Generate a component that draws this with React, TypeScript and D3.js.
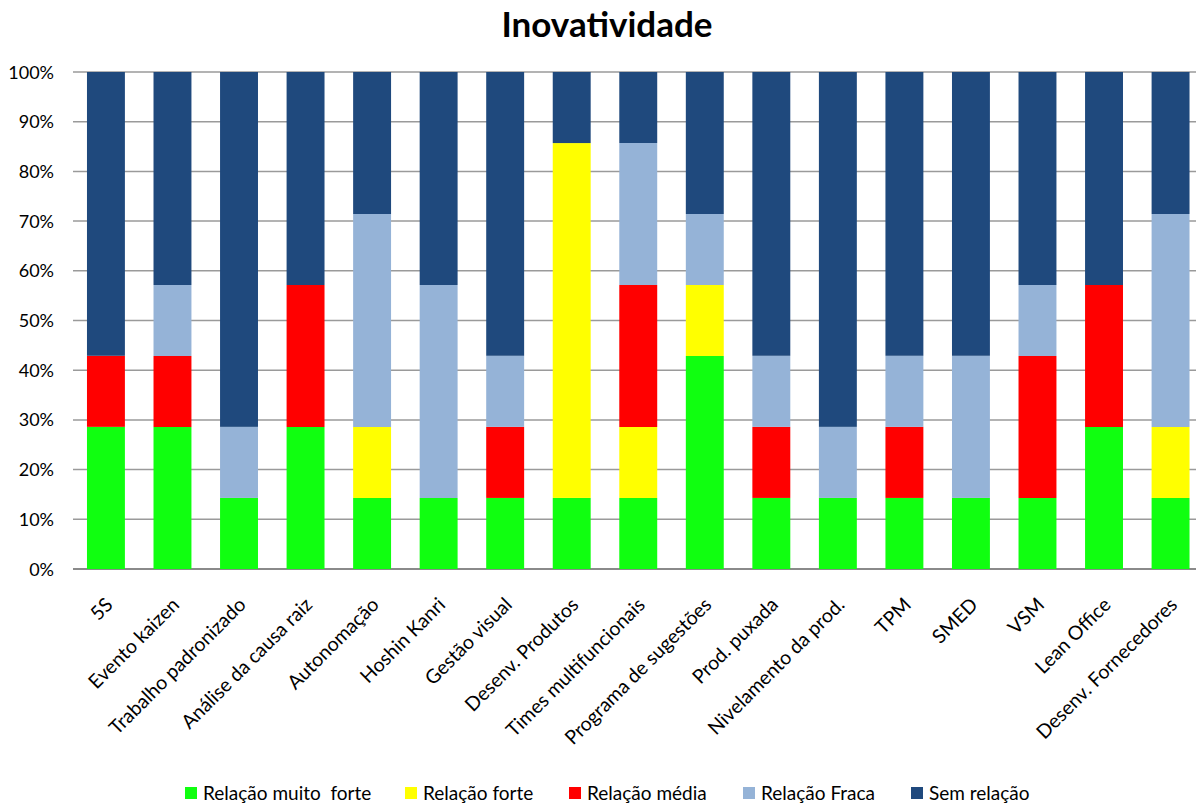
import React from "react";
import * as d3 from "d3";

// Share of each relationship level per lean practice (percent of 7 assessments)
const categories = [
  "5S",
  "Evento kaizen",
  "Trabalho padronizado",
  "Análise da causa raiz",
  "Autonomação",
  "Hoshin Kanri",
  "Gestão visual",
  "Desenv. Produtos",
  "Times multifuncionais",
  "Programa de sugestões",
  "Prod. puxada",
  "Nivelamento da prod.",
  "TPM",
  "SMED",
  "VSM",
  "Lean Office",
  "Desenv. Fornecedores",
];

const muitoForte = [28.6, 28.6, 14.3, 28.6, 14.3, 14.3, 14.3, 14.3, 14.3, 42.9, 14.3, 14.3, 14.3, 14.3, 14.3, 28.6, 14.3];
const forte = [0, 0, 0, 0, 14.3, 0, 0, 71.4, 14.3, 14.3, 0, 0, 0, 0, 0, 0, 14.3];
const media = [14.3, 14.3, 0, 28.6, 0, 0, 14.3, 0, 28.6, 0, 14.3, 0, 14.3, 0, 28.6, 28.6, 0];
const fraca = [0, 14.3, 14.3, 0, 42.9, 42.9, 14.3, 0, 28.6, 14.3, 14.3, 14.3, 14.3, 28.6, 14.3, 0, 42.9];
const semRelacao = [57.1, 42.9, 71.4, 42.9, 28.6, 42.9, 57.1, 14.3, 14.3, 28.6, 57.1, 71.4, 57.1, 57.1, 42.9, 42.9, 28.6];

const seriesNames = ["Relação muito  forte", "Relação forte", "Relação média", "Relação Fraca", "Sem relação"];
const seriesColors = ["#10FF10", "#FFFF00", "#FF0000", "#95B3D7", "#1F497D"];
const yTicks = [0, 0.1, 0.2, 0.3, 0.4, 0.5, 0.6, 0.7, 0.8, 0.9, 1];

const W = 1196;
const H = 806;
const FONT = "Lato, 'Open Sans', sans-serif";

export default function App() {
  const keys = ["s0", "s1", "s2", "s3", "s4"];
  const allSeries = [muitoForte, forte, media, fraca, semRelacao];
  const rows = categories.map((c, i) => {
    const r: Record<string, number | string> = { cat: c };
    keys.forEach((k, j) => (r[k] = allSeries[j][i]));
    return r;
  });
  const stacked = d3
    .stack<Record<string, number | string>>()
    .keys(keys)
    .value((d, k) => d[k] as number)
    .offset(d3.stackOffsetExpand)(rows);

  const left = 73;
  const step = 66.5;
  const x = d3
    .scaleBand<string>()
    .domain(categories)
    .range([left, left + step * categories.length])
    .paddingInner(0.43)
    .paddingOuter(0.21);
  const y = d3.scaleLinear().domain([0, 1]).range([569, 72]);
  const fmt = d3.format(".0%");

  const legendX = [185, 405, 569, 743, 911];

  return (
    <svg width={W} height={H} style={{ position: "absolute", left: 0, top: 0, background: "#fff" }}>
      <text x={607} y={37} textAnchor="middle" fontFamily={FONT} fontWeight="bold" fontSize={35} fill="#000">
        Inovatividade
      </text>

      {yTicks.map((t) => (
        <g key={t}>
          <line x1={left} x2={W} y1={y(t)} y2={y(t)} stroke={t === 0 ? "#8a8a8a" : "#9a9a9a"} strokeWidth={t === 0 ? 2 : 1.5} />
          <text x={54} y={y(t) + 6.5} textAnchor="end" fontFamily={FONT} fontSize={18} fill="#000">
            {fmt(t)}
          </text>
        </g>
      ))}

      {stacked.map((s, si) => (
        <g key={s.key} fill={seriesColors[si]}>
          {s.map((d, i) =>
            d[1] - d[0] > 0 ? (
              <rect
                key={i}
                x={x(categories[i])}
                width={x.bandwidth()}
                y={y(d[1])}
                height={y(d[0]) - y(d[1])}
              />
            ) : null
          )}
        </g>
      ))}

      {categories.map((c) => {
        const cx = (x(c) as number) + x.bandwidth() / 2 + 8;
        return (
          <text
            key={c}
            transform={`translate(${cx},${606}) rotate(-45)`}
            textAnchor="end"
            fontFamily={FONT}
            fontSize={19.5}
            fill="#000"
          >
            {c}
          </text>
        );
      })}

      {seriesNames.map((n, i) => (
        <g key={n}>
          <rect x={legendX[i]} y={787} width={12} height={12} fill={seriesColors[i]} />
          <text x={legendX[i] + 18} y={800} fontFamily={FONT} fontSize={19} fill="#000" style={{ whiteSpace: "pre" }}>
            {n}
          </text>
        </g>
      ))}
    </svg>
  );
}
